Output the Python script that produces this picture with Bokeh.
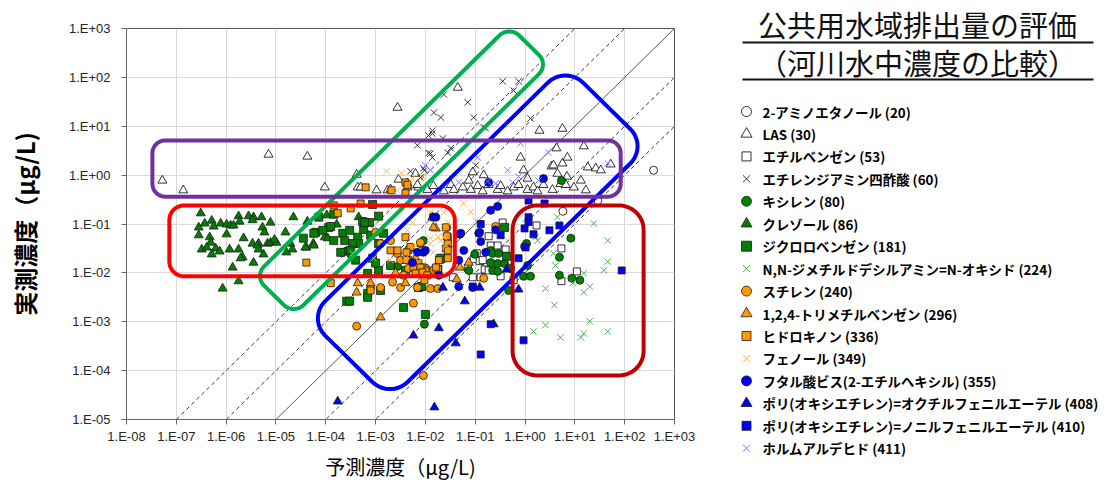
import numpy as np
from bokeh.plotting import figure
from bokeh.models import Range1d, FixedTicker, CustomJSTickFormatter
from bokeh.layouts import row
from bokeh.core.properties import value
from bokeh.embed import file_html
from bokeh.resources import INLINE

# Each reading is (predicted, measured), stored as decimal exponents of µg/L.
amino = [(0.76, -0.74), (1.46, -0.52), (2.58, 0.10)]

las = [(-7.28, -0.11), (-6.86, -0.31), (-5.15, 0.42), (-4.37, 0.38), (-4.02, -0.25),
       (-3.38, 0.01), (-3.36, -0.25), (-3.30, -0.25), (-2.98, -0.31), (-2.76, -0.31),
       (-2.70, -0.29), (-2.56, 1.38), (-2.54, -0.09), (-2.36, -0.25), (-2.36, -0.17),
       (-2.20, 0.03), (-2.14, -0.25), (-2.16, -0.20), (-1.96, -0.30), (-1.84, -0.22),
       (-1.63, -0.33), (-1.49, -0.20), (-1.43, -0.30), (-1.35, 1.79), (-1.25, -0.25),
       (-1.13, -0.11), (-1.09, -0.30), (-1.05, 0.06), (-0.95, -0.22), (-0.85, -0.33),
       (-0.83, 0.00), (-0.73, -0.20), (-0.55, -0.30), (-0.49, -0.22), (-0.35, -0.33),
       (-0.23, -0.25), (-0.13, -0.20), (-0.09, 0.36), (-0.03, 0.10), (0.05, -0.07),
       (0.05, -0.30), (0.17, -0.25), (0.25, -0.33), (0.29, 0.91), (0.37, -0.20),
       (0.53, 0.18), (0.57, 0.20), (0.55, -0.30), (0.63, 0.55), (0.65, 0.03),
       (0.71, -0.18), (0.75, 0.95), (0.75, 0.24), (0.82, -0.20), (0.84, -0.03),
       (0.85, 0.36), (0.98, -0.25), (1.12, -0.11), (1.18, 0.59), (1.22, -0.31),
       (1.26, 0.16), (1.42, 0.14), (1.52, 0.10), (1.72, 0.22)]

ethylbenzene = [(-1.45, -2.09), (-1.15, -1.90), (-1.05, -2.09), (-1.03, -1.72), (-0.97, -1.60),
                (-0.91, -1.76), (-0.89, -2.09), (-0.85, -1.74), (-0.81, -1.93), (-0.73, -1.25),
                (-0.73, -1.95), (-0.69, -1.44), (-0.55, -1.44), (-0.49, -2.07), (-0.45, -0.97),
                (-0.39, -1.52), (-0.23, -2.15), (0.23, -1.03), (0.73, -1.50), (0.73, -2.17),
                (1.04, -1.97)]

edta = [(-2.30, 0.08), (-2.16, 0.61), (-2.10, -0.05), (-2.04, 0.14), (-2.02, 0.10),
        (-1.94, 0.81), (-1.94, 0.45), (-1.90, 0.44), (-1.86, 0.36), (-1.86, 0.91),
        (-1.86, 0.85), (-1.83, 1.28), (-1.69, 1.18), (-1.65, 0.75), (-1.63, 1.65),
        (-1.55, 0.46), (-1.49, 0.55), (-1.15, 1.49), (-1.03, 1.18), (-0.99, 0.20),
        (-0.83, 0.98), (-0.79, 0.96), (-0.45, 1.92), (-0.23, 1.73), (-0.13, 1.92),
        (0.11, 1.16)]

xylene = [(-3.66, -1.58), (-3.58, -1.55), (-3.50, -1.62), (-2.56, -1.87), (-2.10, -2.30),
          (-2.04, -1.34), (-2.10, -1.40), (-2.40, -1.95), (-2.02, -3.05), (-1.13, -1.95),
          (-1.01, -1.62), (-0.69, -1.54), (-0.69, -1.79), (-0.65, -1.60), (-0.65, -1.95),
          (-0.55, -1.81), (-0.55, -1.97), (-0.53, -1.60), (-0.41, -1.81), (-0.33, -2.36),
          (-0.29, -1.91), (-0.03, -2.07), (0.03, -1.40), (-0.01, -1.46), (0.05, -1.85),
          (0.11, -2.07), (0.69, -1.68), (0.69, -2.05), (0.73, -0.11), (0.92, -1.29),
          (0.94, -2.11), (1.10, -2.15)]

cresol = [(-6.51, -0.78), (-6.29, -0.93), (-6.43, -0.99), (-6.55, -1.07), (-6.25, -1.05),
          (-6.11, -0.99), (-5.99, -1.01), (-5.91, -1.03), (-5.85, -1.03), (-5.75, -0.84),
          (-5.73, -0.95), (-5.55, -0.84), (-5.45, -0.86), (-5.29, -0.86), (-5.47, -0.92),
          (-5.27, -1.07), (-5.23, -1.17), (-5.11, -0.97), (-4.65, -0.86), (-4.37, -0.95),
          (-3.98, -0.82), (-3.78, -1.01), (-4.81, -1.17), (-6.55, -1.23), (-6.33, -1.27),
          (-6.31, -1.38), (-5.99, -1.21), (-5.65, -1.29), (-5.47, -1.40), (-5.35, -1.40),
          (-5.37, -1.44), (-5.17, -1.40), (-5.11, -1.38), (-4.99, -1.38), (-5.03, -1.32),
          (-4.71, -1.40), (-6.49, -1.52), (-6.39, -1.48), (-6.21, -1.50), (-6.13, -1.56),
          (-6.29, -1.62), (-5.93, -1.52), (-5.75, -1.52), (-5.35, -1.52), (-5.67, -1.68),
          (-5.71, -1.70), (-5.25, -1.62), (-5.45, -1.79), (-5.87, -1.89), (-4.67, -1.52),
          (-4.79, -1.58), (-4.39, -1.48), (-4.25, -1.40), (-4.02, -1.27), (-5.75, -2.17),
          (-6.07, -2.32), (-4.41, -1.48), (-4.24, -1.44), (-3.96, -1.29), (-3.34, -0.86)]

dichlorobenzene = [(-4.14, -0.86), (-3.84, -0.80), (-3.94, -1.07), (-4.20, -1.17), (-4.06, -1.13),
                   (-3.84, -1.34), (-3.66, -1.19), (-3.52, -1.13), (-3.62, -1.34), (-3.36, -1.27),
                   (-3.34, -1.40), (-3.26, -0.95), (-3.12, -0.97), (-2.94, -0.84), (-3.24, -1.11),
                   (-3.10, -1.23), (-2.94, -1.40), (-3.46, -1.40), (-3.50, -1.54), (-3.70, -1.58),
                   (-3.40, -1.74), (-3.06, -1.70), (-2.94, -1.95), (-3.16, -2.01), (-2.70, -1.85),
                   (-3.00, -1.80), (-3.16, -2.42), (-2.90, -2.36), (-3.90, -1.05), (-4.24, -1.19),
                   (-4.45, -1.29), (-3.58, -2.58), (-3.52, -2.58), (-3.16, -2.50), (-2.44, -2.71),
                   (-2.00, -2.85), (-3.06, -0.60), (-3.22, -0.97), (-2.84, -1.19), (-2.40, -1.95),
                   (-1.75, -1.93), (-1.71, -1.72), (-1.69, -1.70), (-2.14, -2.30), (-2.08, -2.28),
                   (-0.41, -1.07), (-0.37, -1.66)]

amine_oxide = [(0.65, -0.86), (1.38, -0.99), (0.25, -1.34), (0.21, -1.27), (1.66, -1.34),
               (0.57, -1.60), (0.61, -1.85), (1.66, -1.77), (1.58, -1.95), (1.18, -2.01),
               (0.96, -2.21), (1.30, -2.28), (1.18, -2.40), (0.41, -2.32), (0.59, -2.66),
               (1.30, -2.99), (0.41, -3.07), (0.17, -3.20), (0.71, -3.32), (1.18, -3.24),
               (1.12, -3.32), (1.66, -3.20), (0.01, -0.99)]

styrene = [(-3.00, -1.17), (-2.90, -1.40), (-2.70, -1.34), (-2.56, -1.60), (-2.50, -1.74),
           (-2.34, -1.54), (-2.90, -2.30), (-2.50, -2.30), (-3.10, -2.30), (-2.66, -2.19),
           (-2.16, -2.30), (-2.34, -1.91), (-2.44, -2.05), (-2.24, -2.62), (-1.90, -2.32),
           (-1.75, -2.32), (-2.10, -1.38), (-2.32, -1.50), (-0.83, -2.11), (-1.57, -1.07),
           (-0.59, -1.05), (-3.38, -3.09), (-2.04, -4.10), (-2.00, -1.90)]

trimethylbenzene = [(-1.86, -0.86), (-1.79, -1.09), (-1.84, -1.07), (-1.31, -1.89), (-1.13, -1.79),
                    (-1.37, -2.13), (-3.36, -2.21), (-3.10, -2.21), (-2.40, -2.21), (-3.38, -2.40),
                    (-2.90, -2.91), (-2.20, -1.70), (-2.60, -2.00)]

hydroquinone = [(-3.84, -0.62), (-3.76, -0.78), (-3.50, -0.68), (-3.30, -0.58), (-4.39, -1.79),
                (-3.90, -2.21), (-3.10, -2.36), (-2.70, -1.54), (-2.56, -1.54), (-2.34, -1.74),
                (-2.22, -1.85), (-2.14, -1.80), (-2.06, -1.89), (-2.00, -1.95), (-2.40, -1.27),
                (-2.30, -1.47), (-2.38, -1.58), (-2.38, -1.74), (-2.24, -1.89), (-2.10, -1.89),
                (-2.06, -1.99), (-2.20, -2.01), (-1.84, -1.95), (-1.75, -1.93), (-1.55, -1.27),
                (-1.55, -1.40), (-1.59, -1.50), (-1.55, -1.70), (-1.84, -0.86), (-1.59, -1.07),
                (-1.57, -1.25), (-1.55, -1.54), (-1.73, -1.74), (-1.79, -1.89), (-3.20, -0.25),
                (-2.68, -0.31), (-2.40, -0.15), (-2.40, -0.37), (-2.36, -0.20), (-1.96, -2.05),
                (-2.02, -2.15)]

phenol = [(-2.78, 0.08), (-2.48, 0.04), (-2.56, -0.31), (-2.26, -0.07), (-2.06, -0.03),
          (-1.90, -0.76), (-1.84, -0.86), (-1.63, -0.76), (-1.55, -0.97), (-2.26, -0.97),
          (-2.36, -1.13), (-1.90, -1.40), (-1.69, -1.34), (-1.59, -1.44), (-1.84, -1.58),
          (-2.20, -1.44), (-2.14, -1.68), (-2.24, -1.79), (-1.23, -0.58), (-1.09, -0.76),
          (-0.99, -0.93), (-1.75, -1.27), (-1.90, -1.29), (-1.63, -1.27), (-0.35, -1.34),
          (-3.04, -1.70), (-3.46, -1.60), (-2.70, -1.74), (-2.40, -1.70), (-2.04, -1.60)]

dehp = [(-0.69, -0.72), (-0.55, -0.64), (-1.84, -0.86), (-1.79, -0.86), (-1.31, -1.21),
        (-0.93, -1.19), (-0.89, -1.36), (-0.79, -1.58), (-1.33, -1.74), (-1.23, -1.54),
        (-2.04, -1.58), (-2.16, -1.58), (-2.00, -1.54), (-2.26, -1.79), (-1.73, -2.05),
        (-1.29, -1.19), (-0.91, -1.17), (-1.33, -2.28), (-1.05, -2.30), (-0.59, -1.12),
        (-0.73, -0.15), (0.37, -0.07)]

octylphenol_eo = [(-0.37, -1.93), (-0.13, -2.34), (-1.21, -2.58), (-1.73, -3.13), (-2.24, -3.28),
                  (-1.39, -3.44), (-1.82, -4.75), (-1.65, -2.30), (-0.91, -2.30), (-0.63, -3.05),
                  (-3.76, -4.63)]

nonylphenol_eo = [(0.07, -0.86), (0.07, -0.96), (0.39, -0.58), (-0.89, -1.00), (-0.49, -1.23),
                  (-0.13, -1.70), (-0.01, -1.09), (0.17, -1.21), (0.49, -1.13), (0.69, -1.03),
                  (1.94, -1.95), (-0.03, -3.38), (-0.89, -3.67), (-0.69, -3.05), (-1.05, -2.28),
                  (0.01, -1.48), (0.07, -0.52)]

formaldehyde = [(0.47, 0.46), (-0.09, 0.65), (-0.35, 0.10), (-0.95, 0.36), (-1.33, -0.15),
                (-0.59, -0.17), (-0.13, -0.03), (0.27, -0.11), (1.66, 0.24), (-1.90, 0.10),
                (-0.75, -0.13), (-0.25, -0.15), (-2.00, 0.20)]

legend_labels = [
    "2-アミノエタノール (20)", "LAS (30)", "エチルベンゼン (53)", "エチレンジアミン四酢酸 (60)",
    "キシレン (80)", "クレゾール (86)", "ジクロロベンゼン (181)",
    "N,N-ジメチルドデシルアミン=N-オキシド (224)", "スチレン (240)",
    "1,2,4-トリメチルベンゼン (296)", "ヒドロキノン (336)", "フェノール (349)",
    "フタル酸ビス(2-エチルヘキシル) (355)",
    "ポリ(オキシエチレン)=オクチルフェニルエーテル (408)",
    "ポリ(オキシエチレン)=ノニルフェニルエーテル (410)", "ホルムアルデヒド (411)",
]

title_lines = ["公共用水域排出量の評価", "（河川水中濃度の比較）"]
x_title = "予測濃度（μg/L)"
y_title = "実測濃度（μg/L)"

decades = list(range(-8, 4))
ratio_lines = [100, 10, 1, 0.1, 0.01]

GREEN, ORANGE, BLUE = "#008000", "#ff9900", "#0000ff"
EDGE = "#1a1a1a"
# (readings, marker, fill, line colour, size)
styles = [
    (amino, "circle", "white", "#000000", 8),
    (las, "triangle", "white", "#000000", 9),
    (ethylbenzene, "square", "white", "#000000", 7),
    (edta, "x", None, "#333333", 9),
    (xylene, "circle", GREEN, EDGE, 8),
    (cresol, "triangle", GREEN, EDGE, 9),
    (dichlorobenzene, "square", GREEN, EDGE, 8),
    (amine_oxide, "x", None, "#4fae4f", 9),
    (styrene, "circle", ORANGE, EDGE, 8),
    (trimethylbenzene, "triangle", ORANGE, EDGE, 9),
    (hydroquinone, "square", ORANGE, EDGE, 7),
    (phenol, "x", None, "#ffb54d", 9),
    (dehp, "circle", BLUE, EDGE, 8),
    (octylphenol_eo, "triangle", BLUE, EDGE, 9),
    (nonylphenol_eo, "square", BLUE, EDGE, 7),
    (formaldehyde, "x", None, "#7878ff", 9),
]

FRAME_TOP, FRAME_BOTTOM = 28, 419


def tick_label_js():
    return """
    const e = Math.round(Math.log10(tick));
    const a = Math.abs(e);
    return "1.E" + (e < 0 ? "-" : "+") + (a < 10 ? "0" : "") + a;
    """


p = figure(width=700, height=484, x_axis_type="log", y_axis_type="log",
           x_range=Range1d(1e-8, 1e3), y_range=Range1d(1e-5, 1e3),
           toolbar_location=None, output_backend="svg", frame_align=False,
           min_border_left=126, min_border_right=26,
           min_border_top=FRAME_TOP, min_border_bottom=484 - FRAME_BOTTOM,
           background_fill_color="white", border_fill_color="white")
p.outline_line_color = "#555555"
p.outline_line_width = 1

for ax in (p.xaxis[0], p.yaxis[0]):
    ax.ticker = FixedTicker(ticks=[10.0 ** k for k in decades])
    ax.formatter = CustomJSTickFormatter(code=tick_label_js())
    ax.major_label_text_font = "Liberation Sans"
    ax.major_label_text_font_size = "13px"
    ax.major_label_text_color = "#262626"
    ax.axis_line_color = "#666666"
    ax.major_tick_line_color = "#666666"
    ax.major_tick_in = 0
    ax.major_tick_out = 5
    ax.minor_tick_in = 0
    ax.minor_tick_out = 0
    ax.axis_label_text_font = "Noto Sans CJK JP"
    ax.axis_label_text_color = "#000000"

p.xaxis.axis_label = x_title
p.xaxis.axis_label_text_font_size = "20px"
p.xaxis.axis_label_text_font_style = "normal"
p.xaxis.major_label_standoff = 4
p.xaxis.axis_label_standoff = 5

p.yaxis.axis_label = y_title
p.yaxis.axis_label_text_font_size = "24px"
p.yaxis.axis_label_text_font_style = "bold"
p.yaxis.major_label_standoff = 11
p.yaxis.axis_label_standoff = 24

for g in (p.xgrid[0], p.ygrid[0]):
    g.ticker = FixedTicker(ticks=[10.0 ** k for k in decades])
    g.grid_line_color = "#d9d9d9"
    g.grid_line_width = 1

# reference lines y = r * x
for r in ratio_lines:
    xs = np.array([1e-8, 1e3])
    if r == 1:
        p.line(xs, r * xs, line_color="#555555", line_width=1)
    else:
        p.line(xs, r * xs, line_color="#222222", line_width=0.9, line_dash="4 3")

for pts, marker, fill, line, size in styles:
    lx, ly = zip(*pts)
    xs = 10.0 ** np.array(lx)
    ys = 10.0 ** np.array(ly)
    if marker == "x":
        p.scatter(xs, ys, marker="x", size=size, line_color=line, line_width=1)
    else:
        p.scatter(xs, ys, marker=marker, size=size, fill_color=fill,
                  line_color=line, line_width=0.8)


def rounded_box(cx, cy, half_len, half_wid, radius, angle_deg, n=14):
    """Outline of a rounded rectangle laid out in decade units."""
    pts = []
    a, b = half_len - radius, half_wid - radius
    for ux, uy, start in [(a, b, 0), (-a, b, 90), (-a, -b, 180), (a, -b, 270)]:
        for t in np.linspace(start, start + 90, n):
            ang = np.radians(t)
            pts.append((ux + radius * np.cos(ang), uy + radius * np.sin(ang)))
    pts.append(pts[0])
    th = np.radians(angle_deg)
    u = np.array([q[0] for q in pts])
    v = np.array([q[1] for q in pts])
    gx = cx + u * np.cos(th) - v * np.sin(th)
    gy = cy + u * np.sin(th) + v * np.cos(th)
    return 10.0 ** gx, 10.0 ** gy


# highlight frames: (centre x, centre y, half length, half width, radius, angle, colour)
frames = [
    (-2.48, 0.10, 3.62, 0.56, 0.28, 45, "#00b050"),
    (-0.95, -1.17, 3.66, 1.17, 0.50, 45, "#0000ff"),
    (-2.78, 0.135, 4.70, 0.575, 0.26, 0, "#7030a0"),
    (-4.275, -1.345, 2.865, 0.725, 0.30, 0, "#ff0000"),
    (1.065, -2.36, 1.315, 1.74, 0.50, 0, "#c00000"),
]
for cx, cy, hl, hw, rad, ang, col in frames:
    bx, by = rounded_box(cx, cy, hl, hw, rad, ang)
    p.line(bx, by, line_color=col, line_width=4, line_join="round")

# title and legend panel, ranges read directly in page pixels
q = figure(width=411, height=484, x_range=Range1d(700, 1111), y_range=Range1d(484, 0),
           toolbar_location=None, output_backend="svg", frame_align=False,
           min_border=0, min_border_left=0, min_border_right=0,
           min_border_top=0, min_border_bottom=0,
           x_axis_location=None, y_axis_location=None,
           background_fill_color="white", border_fill_color="white")
q.outline_line_color = None
q.xgrid.visible = False
q.ygrid.visible = False

q.text(x=[917, 917], y=[23, 61], text=title_lines, text_font=value("Noto Sans CJK JP"),
       text_font_size="29px", text_align="center", text_baseline="middle",
       text_color="#111111")
q.segment(x0=[742, 742], y0=[42, 79], x1=[1093, 1093], y1=[42, 79],
          line_color="#111111", line_width=2)

row_y = [111 + 22.45 * i for i in range(len(legend_labels))]
for (pts, marker, fill, line, size), yy in zip(styles, row_y):
    if marker == "x":
        q.scatter([746], [yy], marker="x", size=size + 1, line_color=line, line_width=1)
    else:
        q.scatter([746], [yy], marker=marker, size=size + 2, fill_color=fill,
                  line_color=line, line_width=0.8)
q.text(x=[762] * len(legend_labels), y=row_y, text=legend_labels,
       text_font=value("Noto Sans CJK JP"), text_font_style="bold", text_font_size="13.4px",
       text_align="left", text_baseline="middle", text_color="#000000")

layout = row(p, q)
open("out.html", "w").write(file_html(layout, INLINE))
